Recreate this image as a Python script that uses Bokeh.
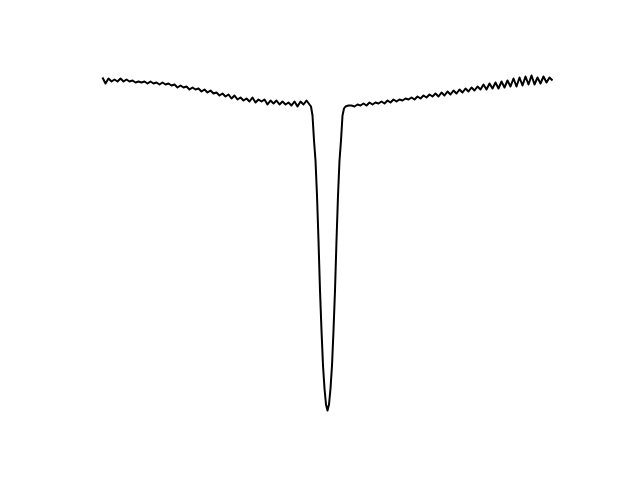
from bokeh.plotting import figure
from bokeh.models import Range1d
from bokeh.embed import file_html
from bokeh.resources import INLINE

# baseline left of the dip (sample index 0..68)
left_base = [77, 83, 78, 81, 79, 81, 78, 81, 79, 81, 80, 82, 81, 82, 81, 83, 81, 83, 82, 84,
             82, 84, 83, 85, 84, 87, 85, 87, 86, 89, 87, 89, 88, 91, 89, 92, 90, 93, 92, 95,
             93, 96, 94, 98, 95, 99, 97, 100, 98, 101, 97, 102, 99, 101, 99, 104, 100, 103, 100, 104,
             101, 104, 102, 105, 101, 106, 101, 104, 100]
# dip, sampled at half steps (index 69..81)
dip_idx = [69, 69.5, 70, 70.5, 71, 71.5, 72, 72.5, 73, 73.5, 74, 74.5, 75,
           75.5, 76, 76.5, 77, 77.5, 78, 78.5, 79, 79.5, 80, 80.5, 81]
dip = [104, 106, 115, 140, 160, 195, 240, 290, 330, 365, 388, 404, 410,
       404, 388, 365, 330, 290, 240, 195, 160, 140, 115, 108, 106]
# baseline right of the dip (sample index 82..150)
right_base = [105, 105, 106, 104, 105, 103, 105, 102, 104, 102, 103, 101, 103, 100, 102, 99, 101, 99, 100, 98,
              99, 97, 99, 96, 98, 95, 97, 94, 96, 93, 96, 92, 95, 91, 94, 90, 93, 89, 92, 88,
              91, 87, 90, 86, 89, 84, 89, 83, 88, 82, 88, 81, 87, 80, 86, 78, 86, 77, 85, 76,
              84, 75, 84, 77, 83, 76, 82, 77, 80]

idx = list(range(len(left_base))) + dip_idx + list(range(82, 82 + len(right_base)))
depth = left_base + dip + right_base
signal = [420 - d for d in depth]

p = figure(width=640, height=480, output_backend="svg", toolbar_location=None,
           x_range=Range1d(-34, 538 / 3), y_range=Range1d(-60, 420),
           min_border=0, min_border_left=0, min_border_right=0,
           min_border_top=0, min_border_bottom=0)
p.axis.visible = False
p.grid.visible = False
p.outline_line_color = None
p.background_fill_color = "white"
p.border_fill_color = "white"

p.line(idx, signal, line_color="black", line_width=2, line_join="round")

open("out.html", "w").write(file_html(p, INLINE))
